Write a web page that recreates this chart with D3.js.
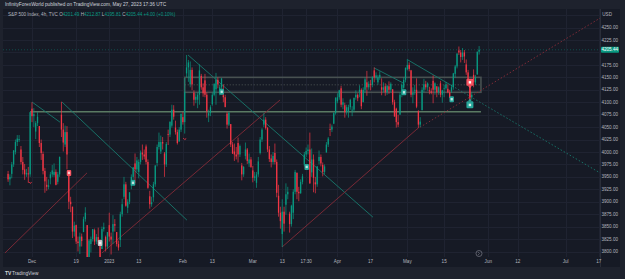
<!DOCTYPE html>
<html>
<head>
<meta charset="utf-8">
<script src="https://cdn.jsdelivr.net/npm/d3@7"></script>
<style>
  html, body { margin: 0; padding: 0; background: #1e222d; }
  svg { display: block; font-family: "Liberation Sans", Arial, sans-serif; }
</style>
</head>
<body>
<div id="chart"></div>
<script>
// 4h bars, S&P 500 (TVC), Nov 21 2022 -> May 26 2023 : [open, high, low, close]
const candles = [
  [3956,3962,3940,3945],[3945,3955,3933,3950],[3956,3980,3947,3975],[3975,4004,3970,4003],
  [4000,4025,3995,4020],[4020,4034,4012,4027],[4024,4034,4020,4026],
  [4005,4012,3975,3980],[3980,3990,3955,3964],[3965,3976,3944,3955],[3955,3966,3950,3958],
  [3957,3970,3938,3955],[3955,4080,3950,4080],
  [4087,4100,4060,4072],[4072,4088,4050,4076],[4041,4062,4026,4058],[4058,4080,4052,4071],
  [4052,4052,4010,4018],[4018,4025,3984,3998],[3996,4001,3955,3962],[3962,3968,3918,3941],
  [3934,3950,3922,3930],[3930,3945,3925,3933],[3947,3960,3935,3955],[3955,3974,3950,3963],
  [3954,3977,3950,3960],[3960,3965,3933,3934],[3940,3960,3935,3955],[3955,3991,3950,3990],
  [4075,4101,4030,4045],[4045,4058,4001,4019],[4015,4053,4010,4040],[4040,4052,3965,3995],
  [3958,3958,3885,3900],[3900,3910,3879,3895],[3890,3890,3827,3840],[3840,3860,3830,3852],
  [3853,3854,3815,3820],[3820,3830,3800,3817],[3810,3838,3795,3830],[3830,3836,3810,3821],
  [3839,3870,3839,3865],[3865,3889,3860,3878],[3853,3853,3765,3785],[3785,3825,3770,3822],
  [3815,3830,3798,3825],[3825,3845,3820,3845],[3843,3846,3813,3820],[3820,3835,3815,3829],
  [3829,3848,3815,3820],[3820,3825,3780,3783],[3805,3850,3805,3845],[3845,3858,3840,3849],
  [3829,3832,3800,3810],[3810,3839,3805,3839],
  [3853,3878,3820,3830],[3830,3838,3794,3824],[3840,3873,3815,3855],[3855,3865,3840,3852],
  [3839,3839,3810,3815],[3815,3822,3802,3808],[3823,3880,3809,3875],[3875,3906,3870,3895],
  [3910,3950,3905,3935],[3935,3940,3890,3892],[3888,3905,3877,3900],[3900,3919,3895,3919],
  [3932,3955,3925,3950],[3950,3970,3945,3969],[3977,3997,3937,3965],[3965,3990,3960,3983],
  [3960,3985,3947,3980],[3980,4003,3975,3999],[3999,4015,3984,3995],[3995,4005,3985,3991],
  [4011,4015,3975,3980],[3980,3985,3926,3928],[3911,3922,3886,3895],[3895,3910,3890,3899],
  [3909,3940,3900,3935],[3935,3973,3930,3973],[3978,4015,3971,4010],[4010,4039,4005,4020],
  [4001,4033,3996,4020],[4020,4030,4005,4017],[3997,4000,3950,3975],[3975,4020,3970,4016],
  [4036,4045,4014,4035],[4035,4061,4030,4061],[4053,4095,4049,4085],[4085,4094,4065,4071],
  [4049,4063,4035,4040],[4040,4045,4015,4018],[4021,4050,4021,4045],[4045,4077,4040,4077],
  [4070,4080,4055,4060],[4060,4149,4037,4120],[4158,4195,4150,4170],[4170,4185,4141,4180],
  [4136,4182,4130,4165],[4165,4170,4124,4136],[4119,4124,4093,4105],[4105,4118,4098,4111],
  [4105,4120,4088,4115],[4115,4176,4095,4164],[4153,4157,4125,4130],[4130,4138,4111,4118],
  [4144,4157,4110,4115],[4115,4120,4069,4082],[4073,4085,4060,4078],[4078,4094,4072,4090],
  [4096,4120,4093,4115],[4115,4138,4112,4137],[4126,4159,4095,4145],[4145,4150,4128,4136],
  [4119,4135,4114,4130],[4130,4148,4125,4148],[4114,4136,4100,4110],[4110,4115,4091,4090],
  [4077,4081,4047,4055],[4055,4080,4052,4079],[4056,4056,4010,4015],[4015,4020,3996,3997],
  [4001,4017,3982,3995],[3995,4010,3985,3991],[4018,4029,3979,3995],[3995,4015,3990,4012],
  [3973,3978,3943,3955],[3955,3972,3950,3970],[3992,4019,3985,4005],[4005,4008,3976,3982],
  [3977,3997,3970,3985],[3985,3990,3968,3970],
  [3963,3972,3939,3948],[3948,3960,3942,3951],[3938,3960,3928,3955],[3955,3990,3950,3981],
  [3998,4030,3995,4025],[4025,4048,4020,4045],[4055,4078,4050,4065],[4065,4070,4045,4048],
  [4048,4050,4000,4005],[4005,4012,3980,3986],[3987,3995,3969,3980],[3980,4000,3975,3992],
  [3998,4017,3975,3980],[3980,3985,3909,3918],[3912,3934,3870,3878],[3878,3890,3846,3861],
  [3835,3905,3809,3880],[3880,3890,3840,3856],[3894,3937,3874,3915],[3915,3930,3905,3920],
  [3876,3880,3838,3855],[3855,3894,3850,3892],[3878,3925,3865,3920],[3920,3964,3915,3960],
  [3958,3959,3905,3920],[3920,3930,3901,3917],[3917,3945,3916,3940],[3940,3956,3935,3951],
  [3975,4000,3971,3995],[3995,4009,3990,4002],[4002,4015,3995,4005],[4005,4039,3936,3937],
  [3959,4007,3950,3985],[3985,3995,3919,3948],[3939,3950,3917,3935],[3935,3972,3930,3971],
  [3982,4003,3975,3990],[3990,3995,3971,3977],[3974,3979,3951,3960],[3960,3975,3955,3971],
  [3999,4020,3999,4015],[4015,4030,4010,4027],[4046,4057,4032,4045],[4045,4055,4040,4051],
  [4057,4080,4056,4078],[4078,4110,4075,4109],
  [4102,4118,4098,4110],[4110,4125,4105,4124],[4128,4133,4090,4095],[4095,4108,4086,4100],
  [4094,4099,4069,4080],[4080,4095,4075,4090],[4082,4095,4069,4090],[4090,4107,4085,4105],
  [4085,4092,4072,4085],[4085,4109,4080,4109],[4110,4124,4105,4115],[4115,4118,4102,4108],
  [4121,4134,4110,4125],[4125,4128,4086,4092],[4100,4130,4100,4125],[4125,4150,4120,4146],
  [4140,4163,4113,4130],[4130,4142,4125,4137],[4137,4145,4124,4135],[4135,4152,4130,4151],
  [4164,4170,4140,4150],[4150,4160,4145,4154],[4140,4155,4135,4150],[4150,4162,4145,4155],
  [4130,4148,4114,4125],[4125,4140,4120,4130],[4132,4138,4113,4120],[4120,4135,4115,4133],
  [4132,4142,4117,4125],[4125,4140,4120,4137],[4126,4126,4095,4100],[4100,4105,4072,4071],
  [4087,4089,4049,4060],[4060,4075,4050,4055],[4075,4120,4075,4115],[4115,4138,4110,4135],
  [4129,4150,4127,4145],[4145,4170,4140,4169],
  [4166,4187,4164,4175],[4175,4180,4162,4167],[4164,4165,4110,4115],[4115,4130,4098,4119],
  [4123,4135,4115,4125],[4125,4148,4088,4091],[4082,4084,4048,4055],[4055,4070,4050,4061],
  [4084,4130,4084,4125],[4125,4147,4120,4136],[4136,4143,4125,4130],[4130,4140,4123,4138],
  [4124,4131,4116,4122],[4122,4128,4116,4119],[4143,4154,4098,4125],[4125,4140,4115,4138],
  [4132,4132,4110,4120],[4120,4132,4115,4130],[4138,4143,4110,4115],[4115,4125,4099,4124],
  [4127,4135,4110,4128],[4128,4141,4125,4136],[4127,4136,4118,4120],[4120,4125,4109,4109],
  [4123,4135,4119,4130],[4130,4159,4125,4158],[4157,4175,4149,4172],[4172,4198,4168,4198],
  [4204,4212,4195,4200],[4200,4205,4180,4191],[4191,4209,4185,4200],[4200,4205,4179,4192],
  [4176,4186,4155,4160],[4160,4165,4145,4146],[4132,4132,4104,4110],[4110,4120,4105,4115],
  [4155,4166,4130,4140],[4140,4155,4135,4151],[4156,4202,4155,4201.44],[4201.49,4212.87,4195.81,4205.44]
];

const priceTicks = [3800,3825,3850,3875,3900,3925,3950,3975,4000,4025,4050,4075,4100,4125,4150,4175,4225,4250];
const lastPrice = 4205.44;

// time axis labels, keyed by bar index
const timeTicks = [
  [13,"Dec"],[37,"19"],[55,"2023"],[71,"13"],[95,"Feb"],[111,"13"],[133,"Mar"],[149,"13"],
  [162,"17:30"],[179,"Apr"],[197,"17"],[217,"May"],[237,"15"],[261,"Jun"],[277,"12"],
  [303,"Jul"],[321,"17"]
];

// drawings: [barIndex, price] anchors
const tealLines = [
  [[13,4100.5],[28.2,4060]],
  [[29.3,4100.5],[97.2,3863]],
  [[97.8,4195],[198.3,3869]],
  [[198.9,4169],[214.6,4139]],
  [[217.3,4185],[241.3,4133]]
];
const tealDotted = [[[241.3,4133],[321.7,3958]]];
const redLines = [
  [[-1.7,3797],[42.9,3958]],
  [[51,3797],[147.8,4104.5]],
  [[148.9,3809],[222.2,4046]]
];
const redDotted = [[[222.2,4046],[321.7,4269]]];
const zoneBox = { from: 96, to: 257, top: 4150, bottom: 4120 };
const supportLine = { from: 12, to: 257, price: 4081 };

const tealBadges = [[67.9,3938],[116.1,4121],[162.3,3970],[215.2,4120],[241.1,4106]];
const redBadges = [[33.1,3958]];
const greyBadges = [[50,3817]];
const bigMarks = { idx: 251, sell: 4140, buy: 4096 };
const tinyMarks = [[12,3938],[96,4026]];

const W = 625, H = 279;
const pane = { left: 3, right: 600, top: 9, bottom: 257 };
const UP = "#089981", DOWN = "#f23645";

const svg = d3.select("#chart").append("svg").attr("width", W).attr("height", H);

// frame + chart background
svg.append("rect").attr("width", W).attr("height", H).attr("fill", "#1e222d");
svg.append("rect").attr("x", pane.left).attr("y", pane.top)
  .attr("width", 620 - pane.left).attr("height", 267 - pane.top).attr("fill", "#161a25");

const x = d3.scaleLinear().domain([-2.76, 321.7]).range([pane.left, pane.right]);
const y = d3.scaleLinear().domain([3800, 4250]).range([251.5, 27.6]);

// grid
const grid = svg.append("g");
grid.selectAll("line.h").data(priceTicks.concat([4200, 4275])).enter().append("line")
  .attr("x1", pane.left).attr("x2", pane.right)
  .attr("y1", (d) => Math.round(y(d)) + 0.5).attr("y2", (d) => Math.round(y(d)) + 0.5)
  .attr("stroke", "#1f2331").attr("stroke-width", 1);
grid.selectAll("line.v").data(timeTicks).enter().append("line")
  .attr("x1", (d) => Math.round(x(d[0])) + 0.5).attr("x2", (d) => Math.round(x(d[0])) + 0.5)
  .attr("y1", pane.top).attr("y2", pane.bottom)
  .attr("stroke", "#1f2331").attr("stroke-width", 1);

// price scale border
svg.append("line").attr("x1", pane.right + 0.5).attr("x2", pane.right + 0.5)
  .attr("y1", pane.top).attr("y2", 267).attr("stroke", "#2a2e39");

const clip = svg.append("clipPath").attr("id", "pane").append("rect")
  .attr("x", pane.left).attr("y", pane.top)
  .attr("width", pane.right - pane.left).attr("height", pane.bottom - pane.top);

const plot = svg.append("g").attr("clip-path", "url(#pane)");

// last price line
plot.append("line").attr("x1", pane.left).attr("x2", pane.right)
  .attr("y1", y(lastPrice)).attr("y2", y(lastPrice))
  .attr("stroke", UP).attr("stroke-opacity", 0.4).attr("stroke-dasharray", "1,2");

// zone box + support line
plot.append("rect")
  .attr("x", x(zoneBox.from)).attr("width", x(zoneBox.to) - x(zoneBox.from))
  .attr("y", y(zoneBox.top)).attr("height", y(zoneBox.bottom) - y(zoneBox.top))
  .attr("fill", "none").attr("stroke", "#4d5655").attr("stroke-opacity", 0.9).attr("stroke-width", 1.6);
plot.append("line")
  .attr("x1", x(zoneBox.from)).attr("x2", x(zoneBox.to))
  .attr("y1", y((zoneBox.top + zoneBox.bottom) / 2)).attr("y2", y((zoneBox.top + zoneBox.bottom) / 2))
  .attr("stroke", "#4d5655").attr("stroke-dasharray", "1,2");
plot.append("line")
  .attr("x1", x(supportLine.from)).attr("x2", x(supportLine.to))
  .attr("y1", y(supportLine.price)).attr("y2", y(supportLine.price))
  .attr("stroke", "#5a7a63").attr("stroke-width", 1.6);

// trendlines
const drawLines = (data, color, dash, op) => {
  plot.selectAll(null).data(data).enter().append("line")
    .attr("x1", (d) => x(d[0][0])).attr("y1", (d) => y(d[0][1]))
    .attr("x2", (d) => x(d[1][0])).attr("y2", (d) => y(d[1][1]))
    .attr("stroke", color).attr("stroke-width", 1).attr("stroke-opacity", op)
    .attr("stroke-dasharray", dash);
};
drawLines(tealLines, "#17786c", null, 0.9);
drawLines(tealDotted, "#17786c", "1.5,2", 0.9);
drawLines(redLines, "#8a2c38", null, 0.85);
drawLines(redDotted, "#8a2c38", "1.5,2", 0.9);

// candles
const bw = 1.3;
const c = plot.selectAll("g.candle").data(candles).enter().append("g");
c.append("line")
  .attr("x1", (d, i) => x(i)).attr("x2", (d, i) => x(i))
  .attr("y1", (d) => y(d[1])).attr("y2", (d) => y(d[2]))
  .attr("stroke", (d) => (d[3] >= d[0] ? UP : DOWN)).attr("stroke-width", 0.7);
c.append("rect")
  .attr("x", (d, i) => x(i) - bw / 2).attr("width", bw)
  .attr("y", (d) => y(Math.max(d[0], d[3])))
  .attr("height", (d) => Math.max(0.8, Math.abs(y(d[0]) - y(d[3]))))
  .attr("fill", (d) => (d[3] >= d[0] ? UP : DOWN));

// badges
const badge = (data, fill, w, h) => {
  const g = plot.selectAll(null).data(data).enter().append("g")
    .attr("transform", (d) => `translate(${x(d[0])},${y(d[1])})`);
  g.append("rect").attr("x", -w / 2).attr("y", -h / 2).attr("width", w).attr("height", h)
    .attr("rx", 1).attr("fill", fill);
  g.append("rect").attr("x", -w / 4).attr("y", -h / 5).attr("width", w / 2).attr("height", h / 2.5)
    .attr("fill", "#ffffff").attr("opacity", 0.7);
};
badge(tealBadges, "#26a69a", 4.5, 6);
badge(redBadges, "#f7525f", 4.5, 6);
badge(greyBadges, "#c9c2c8", 4.5, 6);

plot.append("line")
  .attr("x1", x(bigMarks.idx)).attr("x2", x(bigMarks.idx))
  .attr("y1", y(bigMarks.sell)).attr("y2", y(bigMarks.buy))
  .attr("stroke", DOWN).attr("stroke-width", 1);
const sell = plot.append("g").attr("transform", `translate(${x(bigMarks.idx)},${y(bigMarks.sell)})`);
sell.append("rect").attr("x", -3.5).attr("y", -3.5).attr("width", 7).attr("height", 7).attr("rx", 1.2).attr("fill", "#f7525f");
sell.append("path").attr("d", "M-2,3.5L2,3.5L0,6Z").attr("fill", "#f7525f");
sell.append("rect").attr("x", -1.2).attr("y", -1.2).attr("width", 2.4).attr("height", 2.4).attr("fill", "#fff");
const buy = plot.append("g").attr("transform", `translate(${x(bigMarks.idx)},${y(bigMarks.buy)})`);
buy.append("rect").attr("x", -3.5).attr("y", -3).attr("width", 7).attr("height", 7).attr("rx", 1.2).attr("fill", "#26a69a");
buy.append("path").attr("d", "M-2,-3L2,-3L0,-5.5Z").attr("fill", "#26a69a");
buy.append("rect").attr("x", -1.2).attr("y", -0.5).attr("width", 2.4).attr("height", 2.4).attr("fill", "#fff").attr("opacity", 0.8);

plot.selectAll(null).data(tinyMarks).enter().append("path")
  .attr("d", (d) => `M${x(d[0]) - 1.5},${y(d[1]) - 1}l1.5,1.5l1.5,-1`)
  .attr("fill", "none").attr("stroke", DOWN).attr("stroke-width", 0.9);

// scroll button
svg.append("circle").attr("cx", 479).attr("cy", 253.5).attr("r", 3)
  .attr("fill", "none").attr("stroke", "#787b86").attr("stroke-width", 0.7);
svg.append("path").attr("d", "M478,252l1.5,1.5l-1.5,1.5").attr("fill", "none")
  .attr("stroke", "#787b86").attr("stroke-width", 0.6);

// price axis
const pAxis = svg.append("g").attr("font-size", 4.6).attr("fill", "#b2b5be").attr("text-anchor", "end");
pAxis.selectAll("text").data(priceTicks).enter().append("text")
  .attr("x", 618).attr("y", (d) => y(d) + 1.6).text((d) => d.toFixed(2));
pAxis.append("text").attr("x", 612).attr("y", 15.5).text("USD");
svg.append("rect").attr("x", 601).attr("y", y(lastPrice) - 3).attr("width", 18).attr("height", 6)
  .attr("rx", 0.8).attr("fill", UP);
svg.append("text").attr("x", 618).attr("y", y(lastPrice) + 1.6).attr("font-size", 4.6)
  .attr("text-anchor", "end").attr("fill", "#ffffff").text(lastPrice.toFixed(2));

// time axis
svg.append("g").attr("font-size", 4.6).attr("fill", "#b2b5be").attr("text-anchor", "middle")
  .selectAll("text").data(timeTicks).enter().append("text")
  .attr("x", (d) => x(d[0])).attr("y", 263).text((d) => d[1]);

// header
svg.append("text").attr("x", 5).attr("y", 6.3).attr("font-size", 4.8).attr("fill", "#d1d4dc")
  .text("InfinityForexWorld published on TradingView.com, May 27, 2023 17:36 UTC");
const hdr = svg.append("text").attr("x", 8).attr("y", 15.8).attr("font-size", 4.6).attr("fill", "#b2b5be");
hdr.append("tspan").text("S&P 500 Index, 4h, TVC  ");
[["O", "4201.49"], ["H", "4212.87"], ["L", "4195.81"], ["C", "4205.44"]].forEach(([k, v]) => {
  hdr.append("tspan").attr("fill", "#b2b5be").text(k);
  hdr.append("tspan").attr("fill", UP).text(v + " ");
});
hdr.append("tspan").attr("fill", UP).text("+4.00 (+0.10%)");

// footer logo
svg.append("text").attr("x", 5).attr("y", 274.5).attr("font-size", 5).attr("font-weight", "bold")
  .attr("fill", "#d1d4dc").text("TV");
svg.append("text").attr("x", 12).attr("y", 274.5).attr("font-size", 4.8).attr("fill", "#d1d4dc")
  .text("TradingView");
</script>
</body>
</html>
